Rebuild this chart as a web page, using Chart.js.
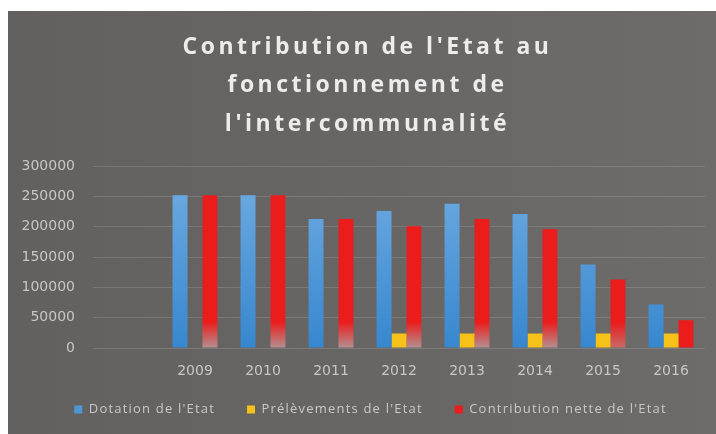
<!DOCTYPE html>
<html>
<head>
<meta charset="utf-8">
<script src="https://cdn.jsdelivr.net/npm/chart.js@4/dist/chart.umd.min.js"></script>
<style>
  html, body { margin: 0; padding: 0; background: #fff; }
  #panel {
    position: absolute; left: 8px; top: 11px; width: 708px; height: 423px;
    background: linear-gradient(90deg, #636160 0%, #686665 50%, #6e6c6b 100%);
  }
</style>
</head>
<body>
<div id="panel"><canvas id="contribChart" width="708" height="423"></canvas></div>
<script>
// Chart data
const years = ['', '2009', '2010', '2011', '2012', '2013', '2014', '2015', '2016'];
const dotation = [null, 252000, 252000, 213000, 226000, 238000, 221000, 138000, 72000];
const prelevements = [null, 0, 0, 0, 24000, 24000, 24000, 24000, 24000];
const contribution = [null, 252000, 252000, 213000, 201000, 213000, 196000, 113000, 46000];
const yTicks = [0, 50000, 100000, 150000, 200000, 250000, 300000];

// Blue bars: lighter at the top, darker at the bottom
function blueFill(context) {
    const area = context.chart.chartArea;
    if (!area || context.type !== 'data' || context.dataIndex === 0) return '#4f96d8';
    const g = context.chart.ctx.createLinearGradient(0, area.top, 0, area.bottom);
    g.addColorStop(0, '#72ade2');
    g.addColorStop(1, '#3787cf');
    return g;
}

// Red bars: washed out near the base on the left part of the chart
function redFill(context) {
    const chart = context.chart;
    const area = chart.chartArea;
    const i = context.dataIndex;
    if (!area || context.type !== 'data' || i === 0 || i > 7) return '#ea1c1c';
    const zero = chart.scales.y.getPixelForValue(0);
    const g = chart.ctx.createLinearGradient(0, zero - 26, 0, zero);
    g.addColorStop(0, '#ea1c1c');
    g.addColorStop(1, i === 7 ? '#c86a6a' : '#b2918f');
    return g;
}

const ctx = document.getElementById('contribChart').getContext('2d');
let contribChart = new Chart(ctx, {
    type: 'bar',
    data: {
        labels: years,
        datasets: [
            {
                label: "Dotation de l'Etat",
                data: dotation,
                backgroundColor: blueFill
            },
            {
                label: "Prélèvements de l'Etat",
                data: prelevements,
                backgroundColor: '#f6c21a'
            },
            {
                label: "Contribution nette de l'Etat",
                data: contribution,
                backgroundColor: redFill
            }
        ]
    },
    options: {
        responsive: false,
        maintainAspectRatio: false,
        animation: false,
        datasets: {
            bar: {
                barPercentage: 1,
                categoryPercentage: 0.66
            }
        },
        layout: {
            padding: { left: 0, right: 11, bottom: 0 }
        },
        scales: {
            x: {
                grid: { display: false, drawTicks: false },
                border: { display: false },
                ticks: {
                    color: '#c6c6c6',
                    font: { family: 'DejaVu Sans', size: 14 },
                    padding: 15
                },
                afterFit: (axis) => { axis.height = 31; }
            },
            y: {
                min: 0,
                max: 300000,
                afterBuildTicks: (axis) => {
                    axis.ticks = yTicks.map(v => ({ value: v }));
                },
                grid: {
                    color: 'rgba(255,255,255,0.13)',
                    drawTicks: false
                },
                border: { display: false },
                ticks: {
                    color: '#c6c6c6',
                    font: { family: 'DejaVu Sans', size: 14 },
                    padding: 18,
                    callback: (value) => String(value)
                },
                afterFit: (axis) => { axis.width = 85; }
            }
        },
        plugins: {
            title: {
                display: true,
                text: ["Contribution de l'Etat au", 'fonctionnement de', "l'intercommunalité"],
                color: '#ececec',
                font: { family: 'Open Sans', size: 23, weight: 'bold', lineHeight: 1.67 },
                padding: { top: 17, bottom: 23 }
            },
            legend: {
                position: 'bottom',
                labels: {
                    color: '#c8c8c8',
                    font: { family: 'Open Sans', size: 13 },
                    boxWidth: 8,
                    boxHeight: 8,
                    padding: 32
                }
            },
            tooltip: { enabled: false }
        }
    }
});

// Text in the picture is letter-spaced; wrap a box so its text is measured and drawn that way
function spaced(box, spacing, shiftX, shiftY) {
    ['fit', 'draw'].forEach(name => {
        const orig = box[name];
        box[name] = function (...args) {
            const c = this.ctx;
            c.save();
            c.letterSpacing = spacing;
            if (name === 'draw') c.translate(shiftX || 0, shiftY || 0);
            try {
                return orig.apply(this, args);
            } finally {
                c.restore();
            }
        };
    });
}

spaced(contribChart.titleBlock, '3.5px', 11, 0);
spaced(contribChart.legend, '1.2px', 14, -8);
contribChart.update();
</script>
</body>
</html>
